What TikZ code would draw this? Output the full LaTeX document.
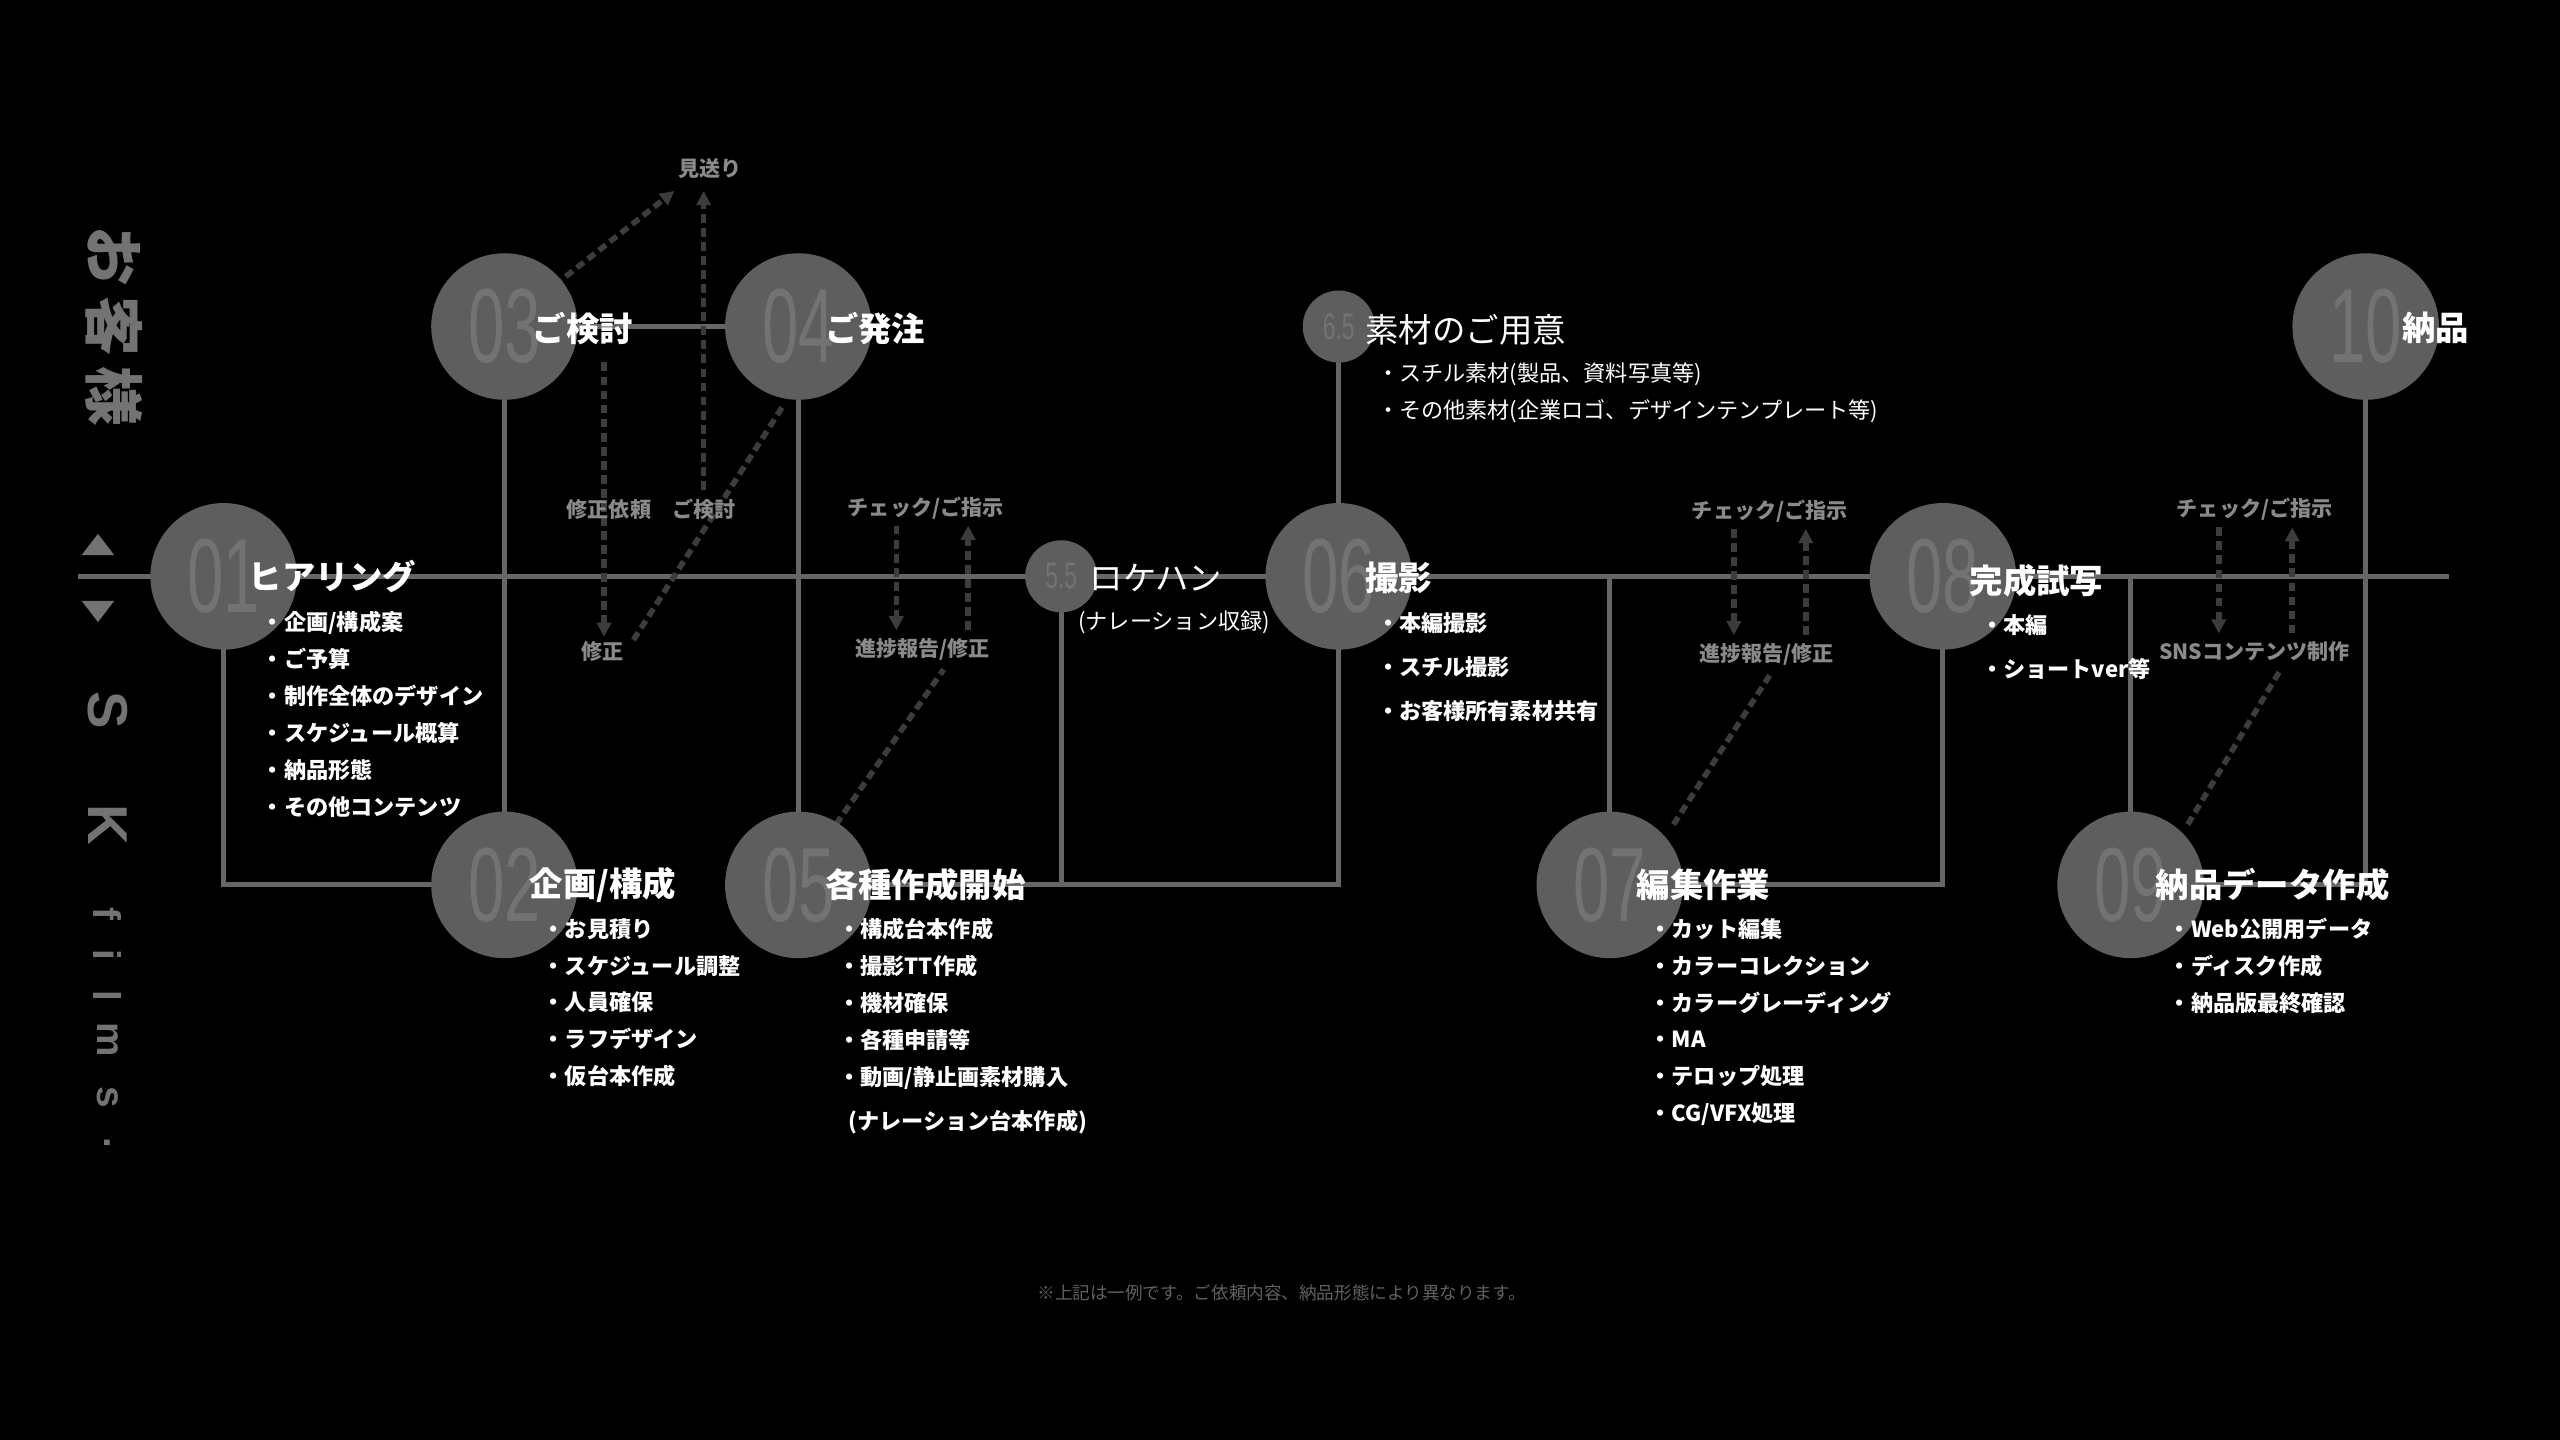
\documentclass[tikz,border=0pt]{standalone}
\usepackage{fontspec}
\setmainfont{Noto Sans CJK JP}
\newfontfamily\numfont{Liberation Sans}
\usetikzlibrary{arrows.meta,positioning,calc}
\definecolor{lineg}{HTML}{666666}
\definecolor{circg}{HTML}{5E5E5E}
\definecolor{numg}{HTML}{737373}
\definecolor{dashg}{HTML}{3C3C3C}
\definecolor{labg}{HTML}{8A8A8A}
\newcommand{\narrow}[1]{\scalebox{0.62}[1]{#1}}
\begin{document}
\begin{tikzpicture}[x=0.016327cm, y=-0.016327cm,
        stepnode/.style={circle,fill=circg,minimum size=41.7pt,inner sep=0pt,
          font=\numfont\fontsize{30}{30}\selectfont,text=numg},
        substep/.style={circle,fill=circg,minimum size=20.5pt,inner sep=0pt,
          font=\numfont\fontsize{10.5}{10.5}\selectfont,text=numg},
        title/.style={text=white,font=\bfseries\fontsize{9.5}{10}\selectfont,anchor=west,inner sep=0pt},
        ltitle/.style={text=white,font=\fontsize{9.5}{10}\selectfont,anchor=west,inner sep=0pt},
        items/.style={text=white,font=\bfseries\fontsize{6.3}{10.5}\selectfont,anchor=north west,align=left,inner sep=0pt},
        litems/.style={text=white,font=\fontsize{6.3}{10.5}\selectfont,anchor=north west,align=left,inner sep=0pt},
        flow/.style={draw=lineg,line width=1.4pt},
        loop/.style={draw=dashg,line width=1.6pt,dash pattern=on 2.5pt off 1.5pt,-{Triangle[length=4pt,width=4pt]}},
        note/.style={text=labg,font=\bfseries\fontsize{6}{7}\selectfont,inner sep=1pt}]
  \fill[black] (0,0) rectangle (1568,882);
  % main line
  \coordinate (lstart) at (48,353);
  \coordinate (lend) at (1500,353);
  \draw[flow] (lstart) -- (lend);
  % connectors
  \coordinate (c1) at (137,542);
  \coordinate (c5) at (650,542);
  \coordinate (c5b) at (820,542);
  \coordinate (c6) at (986,353);
  \coordinate (c7) at (1190,542);
  \coordinate (c8) at (1305,353);
  \coordinate (c9) at (1449,542);
  \draw[flow] (137,353) -- (c1) -- (309,542);
  \draw[flow] (309,542) -- (309,200) -- (489,200) -- (489,542) -- (c5) -- (650,353);
  \draw[flow] (c5) -- (c5b) -- (820,200);
  \draw[flow] (820,353) -- (c6) -- (986,542) -- (c7) -- (1190,353);
  \draw[flow] (1190,353) -- (c8) -- (1305,542) -- (c9) -- (1449,200);
  % loops
  \draw[loop] (370,222) -- (370,390);
  \draw[loop] (431,300) -- (431,117);
  \draw[loop] (333,180) -- (413,117);
  \draw[loop, -] (388,392) -- (480,248);
  \node[note] (n1) at (373,312) {修正依頼};
  \node[note] (n2) at (431,312) {ご検討};
  \node[note] (n3) at (369,399) {修正};
  \node[note] (n4) at (435,103) {見送り};
  \draw[loop] (549,322) -- (549,386);
  \draw[loop] (593,386) -- (593,322);
  \draw[loop, -] (512,505) -- (578,410);
  \node[note] (k1) at (567,311) {チェック/ご指示};
  \node[note] (k2) at (565,398) {進捗報告/修正};
  \draw[loop] (1062,324) -- (1062,389);
  \draw[loop] (1106,389) -- (1106,324);
  \draw[loop, -] (1025,505) -- (1085,412);
  \node[note] (k3) at (1084,313) {チェック/ご指示};
  \node[note] (k4) at (1082,401) {進捗報告/修正};
  \draw[loop] (1359,323) -- (1359,388);
  \draw[loop] (1404,388) -- (1404,323);
  \draw[loop, -] (1340,505) -- (1397,410);
  \node[note] (k5) at (1381,312) {チェック/ご指示};
  \node[note] (k6) at (1381,399) {SNSコンテンツ制作};
  % steps
  \node[stepnode] (s01) at (137,353) {\narrow{01}};
  \node[stepnode] (s02) at (309,542) {\narrow{02}};
  \node[stepnode] (s03) at (309,200) {\narrow{03}};
  \node[stepnode] (s04) at (489,200) {\narrow{04}};
  \node[stepnode] (s05) at (489,542) {\narrow{05}};
  \node[substep] (s55) at (650,353) {\narrow{5.5}};
  \node[stepnode] (s06) at (820,353) {\narrow{06}};
  \node[substep] (s65) at (820,200) {\narrow{6.5}};
  \node[stepnode] (s07) at (986,542) {\narrow{07}};
  \node[stepnode] (s08) at (1190,353) {\narrow{08}};
  \node[stepnode] (s09) at (1305,542) {\narrow{09}};
  \node[stepnode] (s10) at (1449,200) {\narrow{10}};
  % titles and items
  \node[title] (t01) at (152,353) {ヒアリング};
  \node[items] (i01) at (160,374) {・企画/構成案\\・ご予算\\・制作全体のデザイン\\・スケジュール概算\\・納品形態\\・その他コンテンツ};
  \node[title] (t02) at (324,542) {企画/構成};
  \node[items] (i02) at (332,562) {・お見積り\\・スケジュール調整\\・人員確保\\・ラフデザイン\\・仮台本作成};
  \node[title] (t03) at (326,201) {ご検討};
  \node[title] (t04) at (505,201) {ご発注};
  \node[title] (t05) at (505,542) {各種作成開始};
  \node[items] (i05) at (513,562) {・構成台本作成\\・撮影TT作成\\・機材確保\\・各種申請等\\・動画/静止画素材購入\\[2pt]\ \ (ナレーション台本作成)};
  \node[ltitle] (t55) at (667,354) {ロケハン};
  \node[litems] (i55) at (660,374) {(ナレーション収録)};
  \node[title] (t06) at (836,354) {撮影};
  \node[items] (i06) at (843,375) {・本編撮影\\[2pt]・スチル撮影\\[2pt]・お客様所有素材共有};
  \node[ltitle] (t65) at (836,202) {素材のご用意};
  \node[litems] (i65) at (843,222) {・スチル素材(製品、資料写真等)\\・その他素材(企業ロゴ、デザインテンプレート等)};
  \node[title] (t07) at (1002,542) {編集作業};
  \node[items] (i07) at (1010,562) {・カット編集\\・カラーコレクション\\・カラーグレーディング\\・MA\\・テロップ処理\\・CG/VFX処理};
  \node[title] (t08) at (1206,356) {完成試写};
  \node[items] (i08) at (1213,376) {・本編\\[2pt]・ショートver等};
  \node[title] (t09) at (1320,542) {納品データ作成};
  \node[items] (i09) at (1328,562) {・Web公開用データ\\・ディスク作成\\・納品版最終確認};
  \node[title] (t10) at (1471,201) {納品};
  % side labels
  \node[text=numg,font=\bfseries\fontsize{17}{17}\selectfont,rotate=-90] (cust) at (70,200) {お\,客\,様};
  \fill[numg] (50,340) -- (70,340) -- (60,327) -- cycle;
  \fill[numg] (50,368) -- (70,368) -- (60,381) -- cycle;
  \foreach \ch/\yy/\fs in {S/435/16,K/505/16,f/560/11,i/585/11,l/610/11,m/637/11,s/672/11,./700/11}
    \node[text=numg,font=\numfont\bfseries\fontsize{\fs}{\fs}\selectfont,rotate=-90] (sk\yy) at (66,\yy) {\ch};
  \node[text=labg!70!black,font=\fontsize{5}{6}\selectfont] (foot) at (785,792) {※上記は一例です。ご依頼内容、納品形態により異なります。};
\end{tikzpicture}
\end{document}
